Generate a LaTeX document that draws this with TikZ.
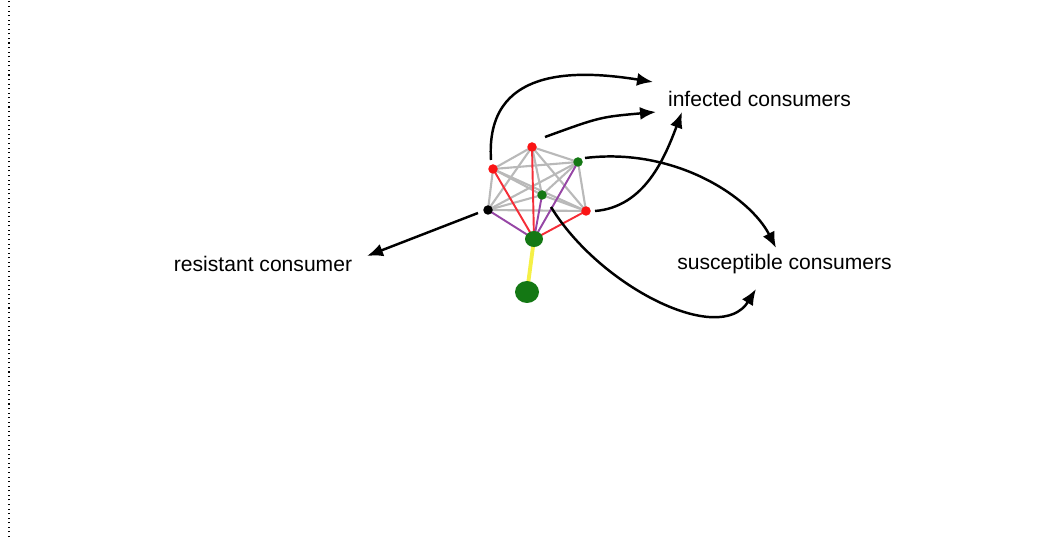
\documentclass[tikz,border=0pt]{standalone}
\usepackage{fontspec}
\setmainfont{Liberation Sans}
\usetikzlibrary{arrows.meta,shapes.geometric}

\definecolor{dotred}{RGB}{250,20,20}
\definecolor{dotgreen}{RGB}{20,120,20}
\definecolor{edgegray}{RGB}{185,185,185}
\definecolor{edgered}{RGB}{245,45,55}
\definecolor{edgepurple}{RGB}{150,70,165}
\definecolor{edgeyellow}{RGB}{245,240,70}

\tikzset{
    dot/.style={circle, inner sep=0pt, minimum size=0.19cm},
    link/.style={edgegray, line width=1.2pt},
    flow/.style={black, line width=1.4pt, -{Latex[length=0.32cm, width=0.26cm]}},
    label/.style={font=\fontsize{12}{14}\selectfont}
}

\begin{document}
\begin{tikzpicture}

    \useasboundingbox (0,0) rectangle (20.94,10.74);

    % dotted margin line
    \draw[dotted, line width=0.6pt] (0.18,0) to (0.18,10.74);

    % network
    % nodes (consumers)
    \coordinate (top) at (10.64,7.80);
    \coordinate (upleft) at (9.86,7.36);
    \coordinate (upright) at (11.56,7.50);
    \coordinate (mid) at (10.84,6.84);
    \coordinate (left) at (9.76,6.54);
    \coordinate (right) at (11.72,6.52);
    \coordinate (hub) at (10.68,5.96);
    \coordinate (source) at (10.54,4.90);

    % contacts between consumers
    \draw[link] (top) to (upleft);
    \draw[link] (top) to (upright);
    \draw[link] (top) to (mid);
    \draw[link] (top) to (left);
    \draw[link] (top) to (right);
    \draw[link] (upleft) to (upright);
    \draw[link] (upleft) to (mid);
    \draw[link] (upleft) to (left);
    \draw[link] (upleft) to (right);
    \draw[link] (upright) to (mid);
    \draw[link] (upright) to (left);
    \draw[link] (upright) to (right);
    \draw[link] (mid) to (left);
    \draw[link] (mid) to (right);
    \draw[link] (left) to (right);

    % contacts with the hub
    \draw[edgepurple, line width=1.1pt] (hub) to (left);
    \draw[edgered, line width=1.1pt] (hub) to (upleft);
    \draw[edgered, line width=1.1pt] (hub) to (top);
    \draw[edgepurple, line width=1.1pt] (hub) to (mid);
    \draw[edgepurple, line width=1.1pt] (hub) to (upright);
    \draw[edgered, line width=1.1pt] (hub) to (right);
    \draw[edgeyellow, line width=2.2pt] (hub) to (source);

    % dots on top of the edges
    \node[dot, fill=dotred] (ntop) at (top) {};
    \node[dot, fill=dotred] (nupleft) at (upleft) {};
    \node[dot, fill=dotgreen] (nupright) at (upright) {};
    \node[dot, fill=dotgreen] (nmid) at (mid) {};
    \node[dot, fill=black] (nleft) at (left) {};
    \node[dot, fill=dotred] (nright) at (right) {};
    \node[ellipse, inner sep=0pt, minimum width=0.36cm, minimum height=0.32cm, fill=dotgreen] (nhub) at (hub) {};
    \node[ellipse, inner sep=0pt, minimum width=0.48cm, minimum height=0.44cm, fill=dotgreen] (nsource) at (source) {};

    % labels
    \node[label] (infected) at (15.19,8.76) {infected consumers};
    \node[label] (susceptible) at (15.69,5.46) {susceptible consumers};
    \node[label] (resistant) at (5.26,5.46) {resistant consumer};

    % arrow ends
    \coordinate (a1) at (9.82,7.54);
    \coordinate (a2) at (10.90,8.00);
    \coordinate (a3) at (11.90,6.52);
    \coordinate (a4) at (11.70,7.58);
    \coordinate (a5) at (11.02,6.60);
    \coordinate (a6) at (9.56,6.48);
    \coordinate (inf1) at (13.06,9.10);
    \coordinate (inf2) at (13.12,8.50);
    \coordinate (inf3) at (13.64,8.50);
    \coordinate (sus1) at (15.52,5.78);
    \coordinate (sus2) at (15.12,4.96);
    \coordinate (res) at (7.34,5.62);

    % paths
    \draw[flow] (a1) .. controls (9.70,9.40) and (11.50,9.35) .. (inf1); % up and over
    \draw[flow] (a2) .. controls (12.00,8.40) .. (inf2);
    \draw[flow] (a3) .. controls (12.90,6.60) and (13.30,7.60) .. (inf3);
    \draw[flow] (a4) .. controls (13.50,7.80) and (15.00,6.80) .. (sus1);
    \draw[flow] (a5) .. controls (12.00,5.00) and (14.40,3.80) .. (sus2); % under the graph
    \draw[flow] (a6) to (res);

\end{tikzpicture}
\end{document}
